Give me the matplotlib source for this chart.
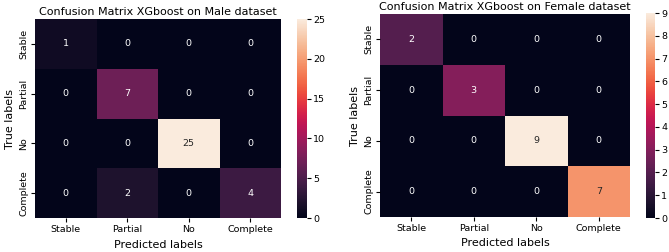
import matplotlib
matplotlib.use('Agg')
import matplotlib.pyplot as plt
import seaborn as sns
import numpy as np

labels = ['Stable', 'Partial', 'No', 'Complete']
male_cm = [[1, 0, 0, 0],
           [0, 7, 0, 0],
           [0, 0, 25, 0],
           [0, 2, 0, 4]]
female_cm = [[2, 0, 0, 0],
             [0, 3, 0, 0],
             [0, 0, 9, 0],
             [0, 0, 0, 7]]

W, H = 669, 252
fig = plt.figure(figsize=(W / 100, H / 100), dpi=100)

def box(x0, y0, x1, y1):
    # pixel box (from top-left) -> figure coords
    return [x0 / W, 1 - y1 / H, (x1 - x0) / W, (y1 - y0) / H]

def draw(cm, title, hm_box, cb_box, ticks):
    ax = fig.add_axes(box(*hm_box))
    cax = fig.add_axes(box(*cb_box))
    sns.heatmap(np.array(cm), annot=True, fmt='d', cmap='rocket', ax=ax, cbar_ax=cax,
                annot_kws={'fontsize': 6.8})
    ax.set_xticklabels(labels, fontsize=6.8)
    ax.set_yticklabels(labels, fontsize=6.8, rotation=90, va='center')
    ax.tick_params(length=3, pad=2)
    ax.set_xlabel('Predicted labels', fontsize=8, labelpad=4)
    ax.set_ylabel('True labels', fontsize=8, labelpad=3)
    ax.set_title(title, fontsize=8, pad=3)
    cax.set_yticks(ticks)
    cax.tick_params(labelsize=6.8, length=3, pad=1.5)

draw(male_cm, 'Confusion Matrix XGboost on Male dataset',
     (35, 19, 281, 218), (297, 19, 307, 218), [0, 5, 10, 15, 20, 25])
draw(female_cm, 'Confusion Matrix XGboost on Female dataset',
     (380, 14, 630, 217), (646, 13, 655, 218), list(range(10)))

fig.savefig('out.png', dpi=100)
